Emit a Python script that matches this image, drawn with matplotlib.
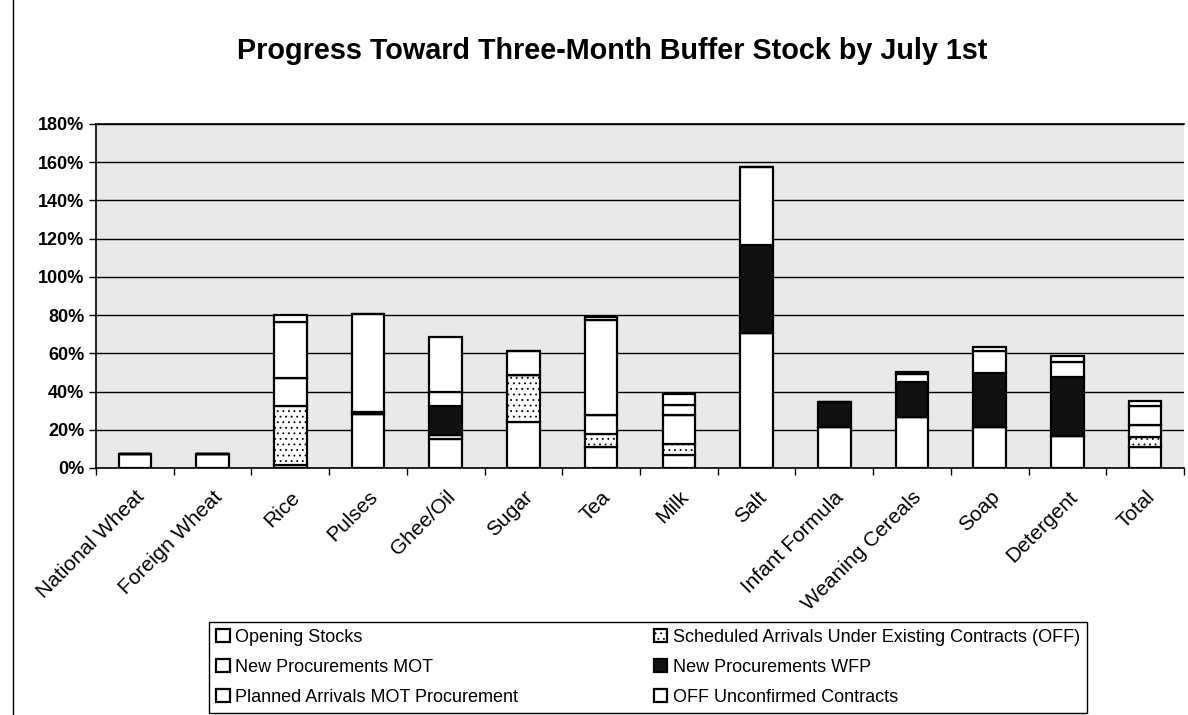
import matplotlib
matplotlib.use("Agg")
import matplotlib.pyplot as plt
import numpy as np
from matplotlib.ticker import PercentFormatter
from matplotlib.lines import Line2D

plt.rcParams['font.family'] = ['Liberation Sans', 'DejaVu Sans']
plt.rcParams['hatch.linewidth'] = 0.6

# Categories and stacked series (percent of three-month buffer)
categories = ['National Wheat', 'Foreign Wheat', 'Rice', 'Pulses', 'Ghee/Oil', 'Sugar', 'Tea',
              'Milk', 'Salt', 'Infant Formula', 'Weaning Cereals', 'Soap', 'Detergent', 'Total']

opening_stocks = [7.3, 7.3, 1.6, 28.3, 15.2, 24.2, 10.8, 6.8, 70.5, 21.6, 26.9, 21.6, 16.8, 10.8]
scheduled_off = [0, 0, 30.9, 0, 2.1, 24.5, 7.0, 5.9, 0, 0, 0, 0, 0, 5.6]
new_proc_mot = [0, 0, 14.5, 0, 0, 0, 9.9, 15.0, 0, 0, 0, 0, 0, 6.1]
new_proc_wfp = [0, 0, 0, 1.2, 15.2, 0, 0, 0, 46.3, 12.8, 18.0, 28.3, 31.0, 0]
planned_mot = [0, 0, 29.3, 51.1, 7.1, 12.7, 49.8, 5.4, 40.9, 0, 4.3, 11.5, 7.9, 10.1]
off_unconfirmed = [0, 0, 3.6, 0, 29.1, 0, 1.4, 5.8, 0, 0, 1.2, 2.1, 3.1, 2.5]

series = [
    ('Opening Stocks', opening_stocks, 'white', None),
    ('Scheduled Arrivals Under Existing Contracts (OFF)', scheduled_off, 'white', '...'),
    ('New Procurements MOT', new_proc_mot, 'white', None),
    ('New Procurements WFP', new_proc_wfp, '#111111', None),
    ('Planned Arrivals MOT Procurement', planned_mot, 'white', None),
    ('OFF Unconfirmed Contracts', off_unconfirmed, 'white', None),
]

fig = plt.figure(figsize=(11.88, 7.15), dpi=100)
ax = fig.add_axes([96 / 1188, 1 - 468 / 715, (1184 - 96) / 1188, (468 - 124) / 715])
ax.set_facecolor('#e9e9e9')

x = np.arange(len(categories))
bottom = np.zeros(len(categories))
handles = {}
for name, values, color, hatch in series:
    vals = np.array(values, dtype=float)
    bars = ax.bar(x, vals, width=0.42, bottom=bottom, color=color, edgecolor='black',
                  linewidth=1.6, hatch=hatch, label=name, zorder=3)
    handles[name] = bars
    bottom += vals

ax.set_ylim(0, 180)
ax.set_xlim(-0.5, len(categories) - 0.5)
ax.set_yticks(np.arange(0, 181, 20))
ax.yaxis.set_major_formatter(PercentFormatter(100, decimals=0))
ax.grid(axis='y', color='black', linewidth=1.0, zorder=1)
ax.set_axisbelow(True)

# ticks between categories, labels at the centres
ax.set_xticks(np.arange(-0.5, len(categories), 1.0))
ax.set_xticklabels([])
ax.set_xticks(x, minor=True)
ax.set_xticklabels(categories, minor=True, rotation=45, ha='right', rotation_mode='anchor',
                   fontsize=15)
ax.tick_params(axis='x', which='minor', length=0, pad=14)
ax.tick_params(axis='x', which='major', length=5, width=1, direction='out')
ax.tick_params(axis='y', length=5, width=1, direction='out', labelsize=13)
for lbl in ax.get_yticklabels():
    lbl.set_fontweight('bold')

for side in ['left', 'bottom', 'top']:
    ax.spines[side].set_color('black')
    ax.spines[side].set_linewidth(1.2)
ax.spines['right'].set_visible(False)

fig.suptitle('Progress Toward Three-Month Buffer Stock by July 1st', x=0.515, y=0.948,
             fontsize=20.7, fontweight='bold')

order = ['Opening Stocks', 'New Procurements MOT', 'Planned Arrivals MOT Procurement',
         'Scheduled Arrivals Under Existing Contracts (OFF)', 'New Procurements WFP',
         'OFF Unconfirmed Contracts']
leg = fig.legend([handles[n] for n in order], order, ncol=2, loc='lower left',
                 bbox_to_anchor=(209 / 1188, 2 / 715), fontsize=13, frameon=True,
                 fancybox=False, edgecolor='black', framealpha=1, borderaxespad=0,
                 handlelength=0.75, handleheight=0.75, handletextpad=0.3,
                 labelspacing=0.72, columnspacing=7.5, borderpad=0.4)
leg.get_frame().set_linewidth(1.0)

# outer chart border on the left
fig.add_artist(Line2D([13 / 1188, 13 / 1188], [0, 1], color='black', linewidth=1.0))

fig.savefig('out.png', dpi=100)
